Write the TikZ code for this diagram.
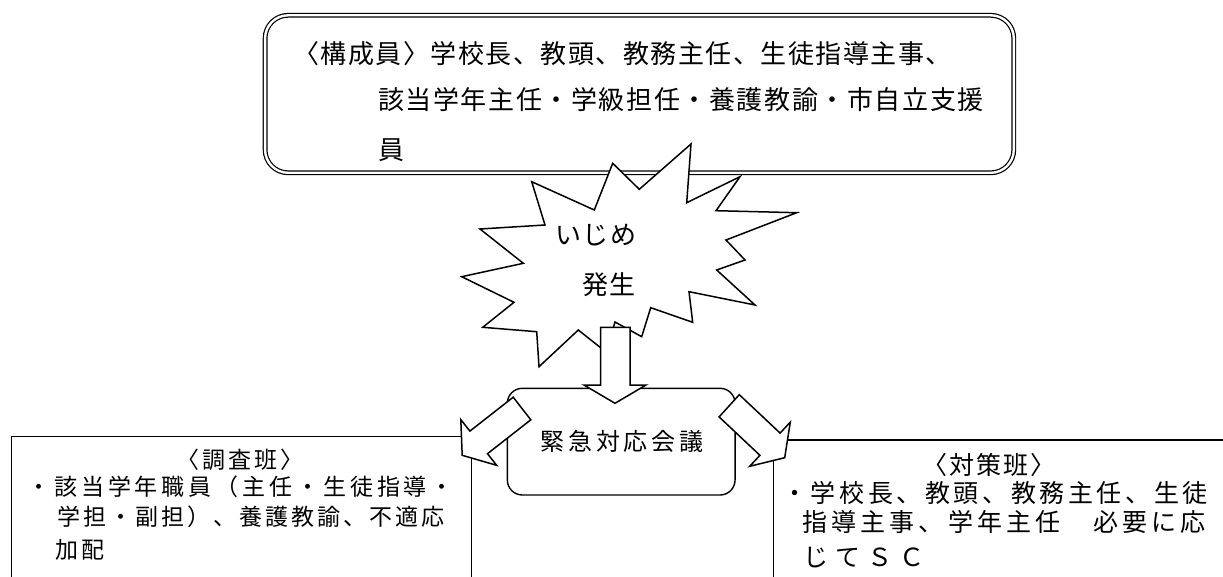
\documentclass[tikz,border=0pt]{standalone}
\usepackage{fontspec}
\newfontfamily\jpf{Noto Sans CJK JP}
\newlength\jpitch
\def\jspr#1{\ifx#1\relax\else\hbox to\jpitch{\hss#1\hss}\expandafter\jspr\fi}
\newcommand\jline[2]{\setlength\jpitch{#1}\rule[-0.12em]{0pt}{1em}\jspr#2\relax}
\begin{document}
\begin{tikzpicture}[x=1pt,y=-1pt,
  txt/.style={inner sep=0pt, outer sep=0pt, anchor=west, font=\jpf\fontsize{#1}{#1}\selectfont},
  boxline/.style={draw, line width=1.3pt, inner sep=0pt},
  shp/.style={draw, fill=white, line width=1.5pt, line join=miter, miter limit=20}]
\useasboundingbox (0,0) rectangle (1223,577);
% member box (double border)
\node[draw, double, double distance=2.4pt, line width=1.2pt, rounded corners=23pt,
      minimum width=748.7pt, minimum height=157.5pt, inner sep=0pt] (members) at (639.45,94.05) {};
% lower boxes
\node[boxline, minimum width=460pt, minimum height=200pt, anchor=north west] (survey) at (11,436) {};
\node[boxline, minimum width=480pt, minimum height=200pt, anchor=north west] (measures) at (772.7,439.3) {};
% meeting box
\node[draw, line width=1.4pt, rounded corners=15pt, minimum width=227.7pt,
      minimum height=106.7pt, inner sep=0pt] (meeting) at (621.2,441.65) {};
\node[txt=24, anchor=center] (meettxt) at (622,441.7) {\jline{27.8pt}{緊急対応会議}};
% starburst
\draw[shp] (612.7,163.3) -- (639.3,189.3) -- (691,144) -- (686.7,202.7) -- (740,176.7)
  -- (716,210.7) -- (796.7,212.7) -- (726,240) -- (745,260) -- (716.7,270) -- (755,305)
  -- (689,291.7) -- (692.7,322.3) -- (650.7,307.7) -- (641.7,336.7) -- (615,322)
  -- (606,352) -- (578.3,330) -- (539,366.7) -- (536.7,331.7) -- (482.7,327.3)
  -- (514,302.3) -- (461.7,276.7) -- (523.3,263.3) -- (480,229) -- (545,225)
  -- (531.7,181.7) -- (594.3,210) -- cycle;
\node[txt=26] (ijime) at (555,235) {\jline{27.2pt}{いじめ}};
\node[txt=26] (hassei) at (582,285) {\jline{27pt}{発生}};
% block arrows
\draw[shp] (600.7,327.3) -- (630,327.3) -- (630,385) -- (646,385) -- (615,403.3)
  -- (584,385) -- (600.7,385) -- cycle;
\draw[shp] (513.2,397.2) -- (469.9,431.1) -- (460.8,419.6) -- (462.2,455.3)
  -- (496.6,465.3) -- (487.5,453.7) -- (530.8,419.8) -- cycle;
\draw[shp] (739.3,394.7) -- (780.1,433.1) -- (790.3,422.1) -- (784.7,457.7)
  -- (749.7,466.3) -- (759.9,455.3) -- (719.1,416.9) -- cycle;
% member text
\node[txt=26] (m1) at (292.7,53.3) {\jline{27.5pt}{〈構成員〉学校長、教頭、教務主任、生徒指導主事、}};
\node[txt=26] (m2) at (377.3,100) {\jline{27.6pt}{該当学年主任・学級担任・養護教諭・市自立支援}};
\node[txt=26] (m3) at (377.3,150) {\jline{27.6pt}{員}};
% survey text
\node[txt=23, anchor=center] (s0) at (240,460) {\jline{26pt}{〈調査班〉}};
\node[txt=23] (s1) at (25.4,486.7) {\jline{26.9pt}{・該当学年職員（主任・生徒指導・}};
\node[txt=23] (s2) at (55.5,516.7) {\jline{26.07pt}{学担・副担）、養護教諭、不適応}};
\node[txt=23] (s3) at (54,550) {\jline{26pt}{加配}};
% measures text
\node[txt=25, anchor=center] (t0) at (989.2,465) {\jline{27pt}{〈対策班〉}};
\node[txt=25] (t1) at (780.4,493.3) {\jline{28.6pt}{・学校長、教頭、教務主任、生徒}};
\node[txt=25] (t2) at (800.5,521.7) {\jline{29.1pt}{指導主事、学年主任　必要に応}};
\node[txt=25] (t3) at (800,556.7) {\jline{32pt}{じてＳＣ}};
\end{tikzpicture}
\end{document}
